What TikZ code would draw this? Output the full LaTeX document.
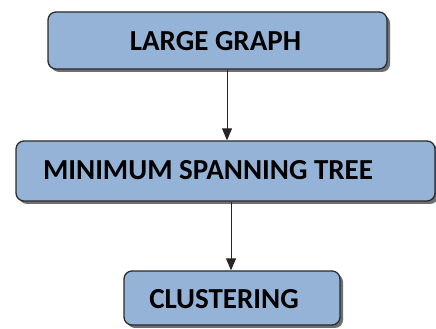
\documentclass[tikz,border=0pt]{standalone}
\usepackage{fontspec}
\setmainfont{Carlito}
\usetikzlibrary{arrows.meta,shadows}
\definecolor{boxfill}{HTML}{95B3D7}
\definecolor{boxline}{HTML}{2B2B2B}
\tikzset{
  box/.style={draw=boxline, line width=1.3pt, fill=boxfill, rounded corners=8pt,
    drop shadow={shadow xshift=3pt, shadow yshift=-3pt, fill=black!70, opacity=0.8}},
  lbl/.style={font=\fontsize{29}{31}\selectfont\bfseries, inner sep=0pt, anchor=base},
  conn/.style={draw=black!85, line width=1pt, -{Triangle[width=10pt,length=12pt]}}
}
\begin{document}
\begin{tikzpicture}[x=1pt,y=1pt]
\useasboundingbox (0,0) rectangle (436,329);
\node[box, minimum width=339pt, minimum height=57pt] (b1) at (217.5,288.5) {};
\node[box, minimum width=419pt, minimum height=60pt] (b2) at (225.5,158) {};
\node[box, minimum width=216pt, minimum height=54pt] (b3) at (232,31) {};
\node[lbl] (t1) at (215.5,278) {LARGE GRAPH};
\node[lbl] (t2) at (208,149) {MINIMUM SPANNING TREE};
\node[lbl] (t3) at (224,20) {CLUSTERING};
\draw[conn] (b1.south -| 227,0) -- (b2.north -| 227,0);
\draw[conn] (b2.south -| 231,0) -- (b3.north -| 231,0);
\end{tikzpicture}
\end{document}
